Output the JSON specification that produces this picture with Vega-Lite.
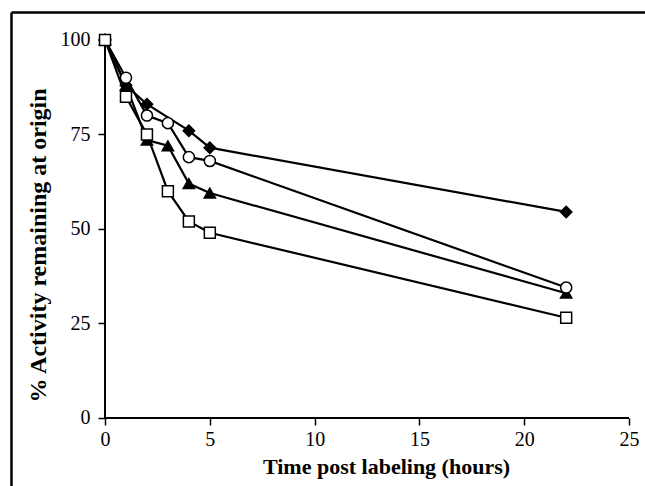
{
  "$schema": "https://vega.github.io/schema/vega-lite/v6.json",
  "width": 634,
  "height": 474,
  "autosize": {"type": "none"},
  "padding": {"left": 11, "top": 12, "right": 0, "bottom": 0},
  "background": "white",
  "config": {
    "view": {"stroke": null},
    "font": "Liberation Serif",
    "axis": {"grid": false, "labelColor": "black", "titleColor": "black", "labelFont": "Liberation Serif", "titleFont": "Liberation Serif"}
  },
  "datasets": {
    "pts": [
      {"series": "diamond", "t": 0, "v": 100},
      {"series": "diamond", "t": 1, "v": 88},
      {"series": "diamond", "t": 2, "v": 83},
      {"series": "diamond", "t": 4, "v": 76},
      {"series": "diamond", "t": 5, "v": 71.5},
      {"series": "diamond", "t": 22, "v": 54.5},
      {"series": "triangle", "t": 0, "v": 100},
      {"series": "triangle", "t": 1, "v": 88},
      {"series": "triangle", "t": 2, "v": 73.5},
      {"series": "triangle", "t": 3, "v": 72},
      {"series": "triangle", "t": 4, "v": 62},
      {"series": "triangle", "t": 5, "v": 59.5},
      {"series": "triangle", "t": 22, "v": 33},
      {"series": "circle", "t": 0, "v": 100},
      {"series": "circle", "t": 1, "v": 90},
      {"series": "circle", "t": 2, "v": 80},
      {"series": "circle", "t": 3, "v": 78},
      {"series": "circle", "t": 4, "v": 69},
      {"series": "circle", "t": 5, "v": 68},
      {"series": "circle", "t": 22, "v": 34.5},
      {"series": "square", "t": 0, "v": 100},
      {"series": "square", "t": 1, "v": 85},
      {"series": "square", "t": 2, "v": 75},
      {"series": "square", "t": 3, "v": 60},
      {"series": "square", "t": 4, "v": 52},
      {"series": "square", "t": 5, "v": 49},
      {"series": "square", "t": 22, "v": 26.5}
    ],
    "axislines": [
      {"x": 0, "y": 0, "x2": 25, "y2": 0},
      {"x": 0, "y": 0, "x2": 0, "y2": 100}
    ]
  },
  "layer": [
    {
      "data": {"name": "axislines"},
      "mark": {"type": "rule", "color": "black", "strokeWidth": 2},
      "encoding": {
        "x": {"field": "x", "type": "quantitative", "scale": {"domain": [-4.485, 25.76], "nice": false, "zero": false},
              "axis": {"orient": "top", "domain": true, "domainColor": "black", "domainWidth": 2.5, "ticks": false, "labels": false, "title": null}},
        "x2": {"field": "x2"},
        "y": {"field": "y", "type": "quantitative", "scale": {"domain": [-18, 107.4], "nice": false, "zero": false},
              "axis": {"orient": "left", "domain": true, "domainColor": "black", "domainWidth": 2.5, "ticks": false, "labels": false, "title": null}},
        "y2": {"field": "y2"}
      }
    },
    {
      "data": {"name": "pts"},
      "mark": {"type": "line", "color": "black", "strokeWidth": 2.2},
      "encoding": {
        "x": {"field": "t", "type": "quantitative", "scale": {"domain": [-4.485, 25.76], "nice": false, "zero": false},
              "axis": {"orient": "bottom", "offset": -68, "domain": false, "values": [0, 5, 10, 15, 20, 25], "tickColor": "black", "tickWidth": 1.5, "tickSize": 7, "labelFontSize": 20, "labelPadding": 4,
                       "title": "Time post labeling (hours)", "titleFontSize": 22, "titleFontWeight": "bold", "titleX": 375, "titleY": 38}},
        "y": {"field": "v", "type": "quantitative", "scale": {"domain": [-18, 107.4], "nice": false, "zero": false},
              "axis": {"orient": "left", "offset": -94, "domain": false, "values": [0, 25, 50, 75, 100], "tickColor": "black", "tickWidth": 1.5, "tickSize": 7, "labelFontSize": 20, "labelPadding": 8,
                       "title": "% Activity remaining at origin", "titleFontSize": 24, "titleFontWeight": "bold", "titleBaseline": "middle", "titleX": -67, "titleY": 233}},
        "detail": {"field": "series"}
      }
    },
    {
      "data": {"name": "pts"},
      "mark": {"type": "point", "filled": true, "stroke": "black", "strokeWidth": 1.5, "opacity": 1},
      "encoding": {
        "x": {"field": "t", "type": "quantitative", "scale": {"domain": [-4.485, 25.76], "nice": false, "zero": false}, "axis": null},
        "y": {"field": "v", "type": "quantitative", "scale": {"domain": [-18, 107.4], "nice": false, "zero": false}, "axis": null},
        "shape": {"field": "series", "type": "nominal", "scale": {"domain": ["diamond", "triangle", "circle", "square"], "range": ["diamond", "triangle-up", "circle", "square"]}, "legend": null},
        "fill": {"field": "series", "type": "nominal", "scale": {"domain": ["diamond", "triangle", "circle", "square"], "range": ["black", "black", "white", "white"]}, "legend": null},
        "size": {"field": "series", "type": "nominal", "scale": {"domain": ["diamond", "triangle", "circle", "square"], "range": [130, 120, 110, 120]}, "legend": null}
      }
    }
  ],
  "resolve": {"axis": {"x": "independent", "y": "independent"}}
}
